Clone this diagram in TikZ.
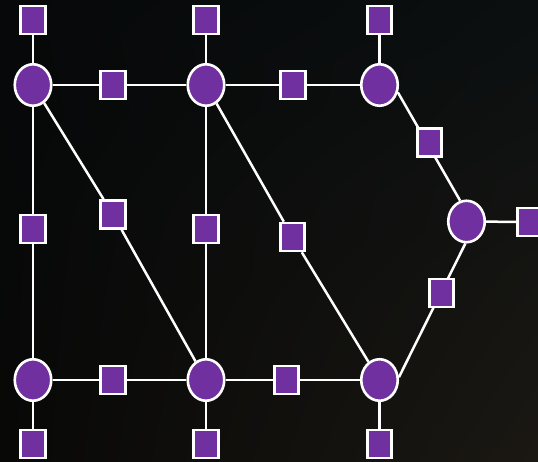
\documentclass[tikz,border=0pt]{standalone}
\usetikzlibrary{shapes.geometric,shadings}
\definecolor{bgUL}{HTML}{060809}
\definecolor{bgUR}{HTML}{0B0F10}
\definecolor{bgLL}{HTML}{080807}
\definecolor{bgLR}{HTML}{1B1813}
\definecolor{purp}{HTML}{7030A0}
\pgfdeclarelayer{bgl}
\pgfdeclarelayer{linkl}
\pgfsetlayers{bgl,linkl,main}
\begin{document}
\begin{tikzpicture}[x=1pt,y=-1pt,
  hub/.style={ellipse,draw=white,line width=2.6pt,fill=purp,minimum width=36.5pt,minimum height=41.5pt,inner sep=0pt},
  sq/.style={rectangle,draw=white,line width=2.6pt,fill=purp,minimum width=24.5pt,minimum height=28pt,inner sep=0pt},
  link/.style={draw=white,line width=2.5pt}]
\useasboundingbox (0,0) rectangle (538,461);
\begin{pgfonlayer}{bgl}
\shade[upper left=bgUL,upper right=bgUR,lower left=bgLL,lower right=bgLR] (0,0) rectangle (538,461);
\end{pgfonlayer}
% hubs
\node[hub] (a) at (33,85) {};
\node[hub] (b) at (206,85) {};
\node[hub] (c) at (379.5,85) {};
\node[hub] (d) at (466.5,221.5) {};
\node[hub] (e) at (33,380) {};
\node[hub] (f) at (206,380) {};
\node[hub] (g) at (379.5,380) {};
% squares
\node[sq] (ta) at (33,20) {};
\node[sq] (tb) at (206,20) {};
\node[sq] (tc) at (379.5,20) {};
\node[sq] (be) at (33,444) {};
\node[sq] (bf) at (206,444) {};
\node[sq] (bg) at (379.5,444) {};
\node[sq] (ab) at (113,85) {};
\node[sq] (bc) at (293,85) {};
\node[sq] (ef) at (113,380) {};
\node[sq] (fg) at (286.5,380) {};
\node[sq] (ae) at (33,229) {};
\node[sq] (bfv) at (206,229) {};
\node[sq] (af) at (113,214.5) {};
\node[sq] (bgd) at (292.5,237) {};
\node[sq] (cd) at (429.5,142.5) {};
\node[sq] (dg) at (441.5,293) {};
\node[sq] (dr) at (530,222) {};
% links
\begin{pgfonlayer}{linkl}
\path[link] (ta) -- (a);
\path[link] (tb) -- (b);
\path[link] (tc) -- (c);
\path[link] (a) -- (ab) -- (b);
\path[link] (b) -- (bc) -- (c);
\path[link] (a) -- (ae) -- (e);
\path[link] (b) -- (bfv) -- (f);
\path[link] (a) -- (af) -- (f);
\path[link] (b) -- (bgd) -- (g);
\path[link] (c.-22) -- (d.107);
\path[link] (d.-93) -- (g.8);
\path[link] (d) -- (dr);
\path[link] (e) -- (ef) -- (f);
\path[link] (f) -- (fg) -- (g);
\path[link] (e) -- (be);
\path[link] (f) -- (bf);
\path[link] (g) -- (bg);
\end{pgfonlayer}
\end{tikzpicture}
\end{document}
